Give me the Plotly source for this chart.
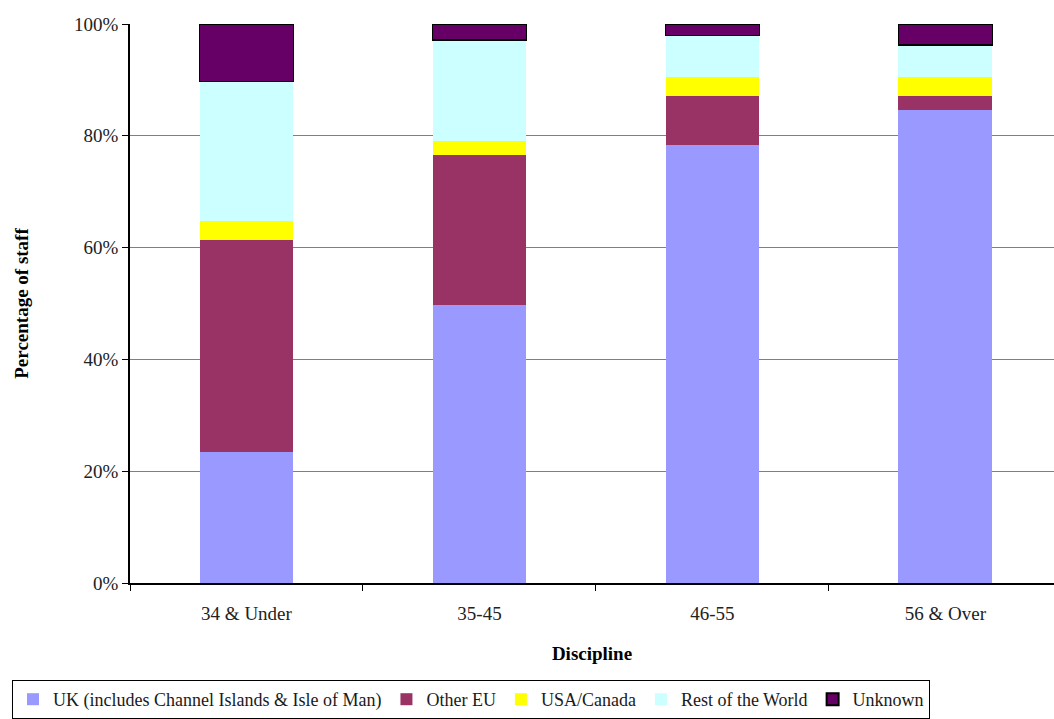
import plotly.graph_objects as go

# Staff nationality by age band (percentage of staff)
age_bands = ["34 & Under", "35-45", "46-55", "56 & Over"]
uk = [23.5, 49.7, 78.4, 84.6]
other_eu = [37.9, 26.8, 8.8, 2.6]
usa_canada = [3.3, 2.5, 3.3, 3.3]
rest_of_world = [25.0, 18.1, 7.4, 5.7]
unknown = [10.3, 2.9, 2.1, 3.8]

series_names = [
    "UK (includes Channel Islands & Isle of Man)",
    "Other EU",
    "USA/Canada",
    "Rest of the World",
    "Unknown",
]
series_values = [uk, other_eu, usa_canada, rest_of_world, unknown]
series_colors = ["#9999ff", "#993366", "#ffff00", "#ccffff", "#660066"]
series_outline = [0, 0, 0, 0, 1.5]

FONT = "Liberation Serif"

fig = go.Figure()
for name, vals, col, lw in zip(series_names, series_values, series_colors, series_outline):
    fig.add_trace(go.Bar(
        x=age_bands,
        y=vals,
        name=name,
        marker=dict(color=col, line=dict(color="black", width=lw)),
    ))

fig.update_layout(
    barmode="stack",
    bargap=0.597,
    width=1054,
    height=719,
    margin=dict(l=130, r=0, t=24, b=136, autoexpand=False),
    paper_bgcolor="white",
    plot_bgcolor="white",
    font=dict(family=FONT, size=19, color="#222222"),
    showlegend=True,
    legend=dict(
        orientation="h",
        xref="container",
        yref="container",
        x=12 / 1054,
        xanchor="left",
        y=-0.012,
        yanchor="bottom",
        bordercolor="black",
        borderwidth=1,
        font=dict(family=FONT, size=18, color="#1a1a1a"),
        traceorder="normal",
        itemsizing="constant",
        tracegroupgap=0,
        itemwidth=30,
    ),
    xaxis=dict(
        range=[-0.5, 3.466],
        showline=True,
        linecolor="black",
        linewidth=1.5,
        ticks="outside",
        tickson="boundaries",
        ticklen=6,
        tickcolor="black",
        showgrid=False,
        ticklabelstandoff=12,
        title=dict(text="<b>Discipline</b>", font=dict(family=FONT, size=19, color="black"), standoff=24),
        tickfont=dict(family=FONT, size=19, color="#222222"),
    ),
    yaxis=dict(
        range=[0, 100],
        dtick=20,
        ticksuffix="%",
        showline=True,
        linecolor="black",
        linewidth=1.5,
        ticks="outside",
        ticklen=6,
        tickcolor="black",
        showgrid=True,
        gridcolor="#808080",
        gridwidth=1,
        zeroline=False,
        title=dict(text="<b>Percentage of staff</b>", font=dict(family=FONT, size=19, color="black"), standoff=40),
        tickfont=dict(family=FONT, size=19, color="#222222"),
    ),
)

fig.write_html("out.html")
